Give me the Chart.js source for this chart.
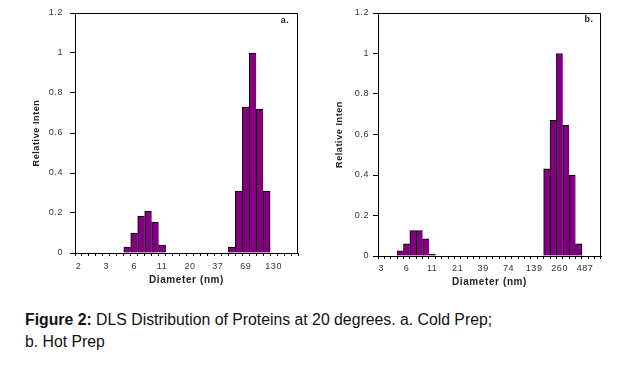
<!DOCTYPE html>
<html>
<head>
<meta charset="utf-8">
<script src="https://cdn.jsdelivr.net/npm/chart.js@4.4.0/dist/chart.umd.min.js"></script>
<style>
  body { margin: 0; background: #fff; width: 620px; height: 369px; overflow: hidden; position: relative; }
  canvas { position: absolute; top: 0; }
  #cap { position: absolute; left: 25px; top: 309px; font-family: 'Liberation Sans', Arial, sans-serif;
         font-size: 15.8px; line-height: 22px; color: #111; white-space: nowrap; }
</style>
</head>
<body>
<canvas id="chartA" width="310" height="290" style="left:0px"></canvas>
<canvas id="chartB" width="310" height="290" style="left:310px"></canvas>
<div id="cap"><b>Figure 2:</b> DLS Distribution of Proteins at 20 degrees. a. Cold Prep;<br>b. Hot Prep</div>
<script>
// cold prep (a.)
const coldDiameters = [2, 2.2, 2.5, 2.8, 3, 3.6, 4.3, 5.1, 6, 7, 8.1, 9.5, 11, 12.8, 14.9, 17.3,
  20, 23.4, 27.3, 31.7, 37, 43, 50, 59, 69, 81, 95, 111, 130, 152, 178, 208];
const coldIntensity = [0, 0, 0, 0, 0, 0, 0, 0.03, 0.10, 0.185, 0.21, 0.155, 0.04, 0, 0, 0,
  0, 0, 0, 0, 0, 0, 0.03, 0.31, 0.73, 1.0, 0.72, 0.31, 0, 0, 0, 0];

// hot prep (b.)
const hotDiameters = [3, 3.5, 4.1, 5, 6, 7.1, 8.3, 9.7, 11, 13.3, 15.6, 18, 21, 24.8, 29, 33.9,
  39, 46.3, 54, 63.5, 74, 87, 102, 119, 139, 163, 191, 224, 260, 306, 358, 418, 487, 571, 668];
const hotIntensity = [0, 0, 0, 0.025, 0.06, 0.125, 0.125, 0.085, 0.01, 0, 0, 0, 0, 0, 0, 0,
  0, 0, 0, 0, 0, 0, 0, 0, 0, 0, 0.43, 0.67, 1.0, 0.645, 0.40, 0.06, 0, 0, 0];

const yTicks = [0, 0.2, 0.4, 0.6, 0.8, 1, 1.2];

const FONT = "'Liberation Sans', Arial, sans-serif";

// spaced-out lettering like the original export
const spacingPlugin = {
  id: 'spacing',
  beforeDraw(chart) { chart.ctx.letterSpacing = '0.6px'; }
};

// frame round the plot + the panel letter
const boxPlugin = {
  id: 'box',
  afterDraw(chart, args, opts) {
    const {ctx, chartArea: a} = chart;
    ctx.save();
    ctx.strokeStyle = '#000';
    ctx.lineWidth = 1;
    ctx.strokeRect(Math.round(a.left) + 0.5, Math.round(a.top) + 0.5,
      Math.round(a.right - a.left) - 1, Math.round(a.bottom - a.top));
    ctx.fillStyle = '#222';
    ctx.font = 'bold 9px ' + FONT;
    ctx.textAlign = 'center';
    ctx.textBaseline = 'middle';
    ctx.fillText(opts.letter, opts.lx, opts.ly);
    ctx.restore();
  }
};

function makeChart(id, labels, values, cfg) {
  return new Chart(document.getElementById(id), {
    type: 'bar',
    data: {
      labels: labels,
      datasets: [{
        data: values,
        backgroundColor: '#800080',
        borderColor: '#000',
        borderSkipped: false,
        borderWidth: (c) => {
          const v = c.dataset.data;
          const next = v[c.dataIndex + 1];
          return {top: 1, left: 1, bottom: 0, right: next ? 0 : 1};
        },
        barPercentage: 1,
        categoryPercentage: 1
      }]
    },
    options: {
      responsive: false,
      animation: false,
      events: [],
      layout: {padding: {left: 0, right: cfg.padRight, top: 13, bottom: 0}},
      plugins: {
        legend: {display: false},
        tooltip: {enabled: false},
        box: {letter: cfg.letter, lx: cfg.lx, ly: cfg.ly}
      },
      scales: {
        x: {
          afterFit: (s) => { s.height = cfg.xHeight; },
          grid: {display: true, drawOnChartArea: false, drawTicks: true, tickLength: 3, color: '#000', offset: true},
          border: {display: true, color: '#000'},
          ticks: {
            autoSkip: false, maxRotation: 0, minRotation: 0, padding: cfg.xTickPad,
            color: '#333', font: {family: FONT, size: 9},
            callback: function (val, i) { return i % 4 === 0 ? String(this.getLabelForValue(val)) : ''; }
          },
          title: {display: true, text: 'Diameter (nm)', color: '#222',
            font: {family: FONT, size: 10, weight: 'bold'}, padding: {top: 0, bottom: cfg.xTitlePad}}
        },
        y: {
          min: 0, max: 1.2,
          afterFit: (s) => { s.width = cfg.yWidth; },
          afterBuildTicks: (s) => { s.ticks = yTicks.map(v => ({value: v})); },
          grid: {display: true, drawOnChartArea: false, drawTicks: true, tickLength: 5, color: '#000'},
          border: {display: true, color: '#000'},
          ticks: {padding: cfg.yTickPad, color: '#333', font: {family: FONT, size: 9},
            callback: (v) => String(v)},
          title: {display: true, text: 'Relative Inten', color: '#222',
            font: {family: FONT, size: 9, weight: 'bold'}, padding: {top: cfg.yTitlePad, bottom: 0}}
        }
      }
    },
    plugins: [spacingPlugin, boxPlugin]
  });
}

makeChart('chartA', coldDiameters, coldIntensity, {
  padRight: 12, xHeight: 37, yWidth: 75, xTickPad: 5, xTitlePad: 4, yTickPad: 7, yTitlePad: 31.6,
  letter: 'a.', lx: 285, ly: 21
});
makeChart('chartB', hotDiameters, hotIntensity, {
  padRight: 19, xHeight: 34, yWidth: 68, xTickPad: 4, xTitlePad: 1.3, yTickPad: 4, yTitlePad: 24.6,
  letter: 'b.', lx: 279, ly: 20
});
</script>
</body>
</html>
